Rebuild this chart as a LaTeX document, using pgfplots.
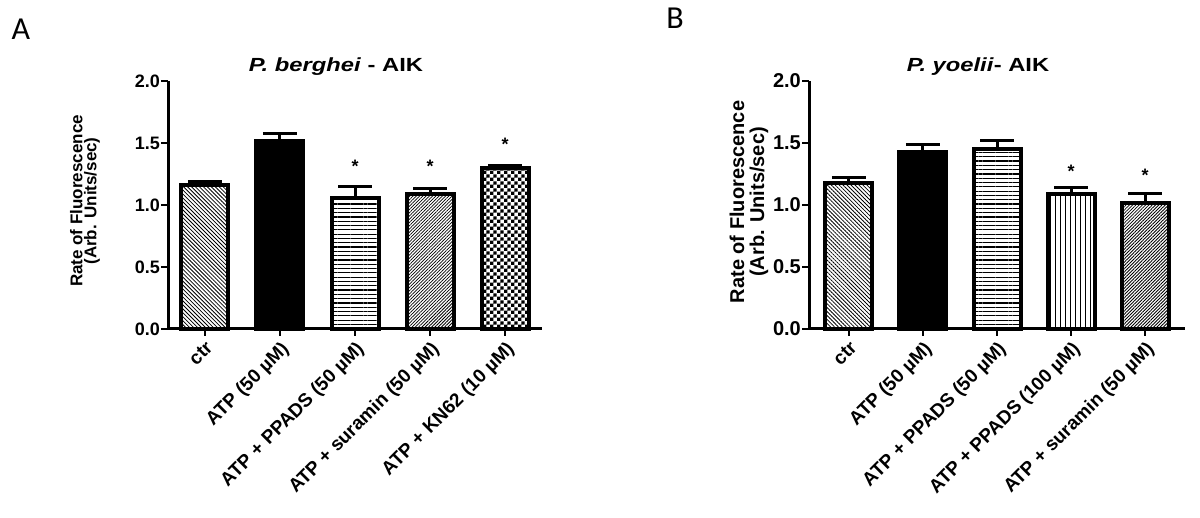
\documentclass[border=0pt]{standalone}
\usepackage{pgfplots}
\pgfplotsset{compat=1.18}
\usepackage{fontspec}
\setmainfont{Liberation Sans}
\newfontfamily\letterfont{Carlito}
\usetikzlibrary{patterns,patterns.meta}
\pgfdeclarepatternformonly{mycheck}{\pgfqpoint{0pt}{0pt}}{\pgfqpoint{6.8pt}{6.8pt}}{\pgfqpoint{6.8pt}{6.8pt}}{%
  \pgfpathrectangle{\pgfqpoint{0pt}{0pt}}{\pgfqpoint{3.4pt}{3.4pt}}%
  \pgfpathrectangle{\pgfqpoint{3.4pt}{3.4pt}}{\pgfqpoint{3.4pt}{3.4pt}}%
  \pgfusepath{fill}}
\pgfplotsset{
  panel/.style={
    scale only axis, height=248pt,
    ymin=0, ymax=2, ytick={0,0.5,1,1.5,2},
    axis x line*=bottom, axis y line*=left,
    axis line style={line width=3pt, black},
    major tick style={line width=2.5pt, black},
    major tick length=7pt, tick align=outside,
    xtick={0,1,2,3,4},
    /pgf/number format/.cd, fixed, fixed zerofill, precision=1, assume math mode=true,
    /pgfplots/.cd,
    yticklabel style={font=\fontsize{18}{18}\selectfont\bfseries, inner sep=1pt},
    xticklabel style={font=\fontsize{19}{19}\selectfont\bfseries, rotate=45, anchor=north east, inner sep=1pt, yshift=-2pt, xshift=-2pt},
    ybar, bar shift=0pt, bar width=47pt,
    clip=false,
    error bars/y dir=plus, error bars/y explicit,
    error bars/error bar style={line width=3pt, black, solid},
    error bars/error mark options={rotate=90, mark size=17pt, line width=3pt, black},
  },
  bb/.style={draw=black, line width=4pt},
}
\begin{document}
\begin{tikzpicture}
\useasboundingbox (0,0) rectangle (1200pt,518pt);
% Panel A
\begin{axis}[panel, at={(168pt,189pt)}, anchor=south west, width=374pt,
  xmin=-0.49, xmax=4.49,
  xticklabels={ctr, ATP (50 µM), ATP + PPADS (50 µM), ATP + suramin (50 µM), ATP + KN62 (10 µM)}]
\addplot[bb, pattern={Lines[angle=-45,distance=2.8pt,line width=0.8pt]}, pattern color=black] coordinates {(0,1.16) +- (0,0.03)};
\addplot[bb, fill=black] coordinates {(1,1.52) +- (0,0.06)};
\addplot[bb, pattern={Lines[angle=0,distance=4.3pt,line width=1.2pt]}, pattern color=black] coordinates {(2,1.06) +- (0,0.09)};
\addplot[bb, pattern={Lines[angle=45,distance=2.3pt,line width=0.8pt]}, pattern color=black] coordinates {(3,1.09) +- (0,0.04)};
\addplot[bb, pattern=mycheck, pattern color=black] coordinates {(4,1.30) +- (0,0.015)};
\node[font=\fontsize{18}{18}\selectfont\bfseries] at (axis cs:2,1.31) {*};
\node[font=\fontsize{18}{18}\selectfont\bfseries] at (axis cs:3,1.31) {*};
\node[font=\fontsize{18}{18}\selectfont\bfseries] at (axis cs:4,1.49) {*};
\end{axis}
% Panel B
\begin{axis}[panel, at={(809pt,189pt)}, anchor=south west, width=376pt,
  xmin=-0.54, xmax=4.54,
  yticklabel style={font=\fontsize{20}{20}\selectfont\bfseries},
  xticklabels={ctr, ATP (50 µM), ATP + PPADS (50 µM), ATP + PPADS (100 µM), ATP + suramin (50 µM)}]
\addplot[bb, pattern={Lines[angle=-45,distance=2.8pt,line width=0.8pt]}, pattern color=black] coordinates {(0,1.18) +- (0,0.04)};
\addplot[bb, fill=black] coordinates {(1,1.43) +- (0,0.06)};
\addplot[bb, pattern={Lines[angle=0,distance=4.3pt,line width=1.2pt]}, pattern color=black] coordinates {(2,1.45) +- (0,0.07)};
\addplot[bb, pattern={Lines[angle=90,distance=5pt,line width=1pt]}, pattern color=black] coordinates {(3,1.09) +- (0,0.05)};
\addplot[bb, pattern={Lines[angle=45,distance=2.3pt,line width=0.8pt]}, pattern color=black] coordinates {(4,1.02) +- (0,0.07)};
\node[font=\fontsize{18}{18}\selectfont\bfseries] at (axis cs:3,1.27) {*};
\node[font=\fontsize{18}{18}\selectfont\bfseries] at (axis cs:4,1.24) {*};
\end{axis}
% titles
\node[font=\fontsize{19}{19}\selectfont\bfseries] at (336pt,451pt) {\scalebox{1.25}[1]{\textit{P. berghei} - AIK}};
\node[font=\fontsize{19}{19}\selectfont\bfseries] at (978pt,451pt) {\scalebox{1.25}[1]{\textit{P. yoelii}- AIK}};
% y labels
\node[rotate=90, align=center, font=\fontsize{17}{14}\selectfont\bfseries] at (85pt,317pt) {Rate of Fluorescence\\(Arb. Units/sec)};
\node[rotate=90, align=center, font=\fontsize{20}{20}\selectfont\bfseries] at (749pt,316pt) {Rate of Fluorescence\\(Arb. Units/sec)};
% panel letters
\node[font=\fontsize{32}{32}\letterfont] at (21pt,489pt) {A};
\node[font=\fontsize{32}{32}\letterfont] at (675pt,500pt) {B};
\end{tikzpicture}
\end{document}
